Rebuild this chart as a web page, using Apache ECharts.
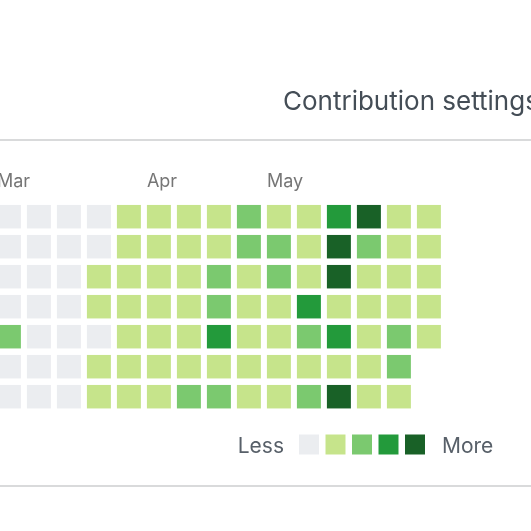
<!DOCTYPE html>
<html>
<head>
<meta charset="utf-8">
<script src="https://cdn.jsdelivr.net/npm/echarts@6/dist/echarts.min.js"></script>
<style>
html,body{margin:0;padding:0;background:#fff;}
#chart{width:531px;height:531px;}
</style>
</head>
<body>
<div id="chart"></div>
<script>
// Week columns (left to right, index) and weekday rows (top to bottom)
var weeks = ['w0','w1','w2','w3','w4','w5','w6','w7','w8','w9','w10','w11','w12','w13','w14'];
var days = ['Sun','Mon','Tue','Wed','Thu','Fri','Sat'];
// Contribution level (0-4) per week column, one entry per weekday row
var levelsByWeek = [
  [0,0,0,0,2,0,0],
  [0,0,0,0,0,0,0],
  [0,0,0,0,0,0,0],
  [0,0,1,1,0,1,1],
  [1,1,1,1,1,1,1],
  [1,1,1,1,1,1,1],
  [1,1,1,1,1,1,2],
  [1,1,2,2,3,1,2],
  [2,2,1,1,1,1,1],
  [1,2,2,1,1,1,1],
  [1,1,1,3,2,1,2],
  [3,4,4,1,3,1,4],
  [4,2,1,1,1,1,1],
  [1,1,1,1,2,2,1],
  [1,1,1,1,1]
];
// Month labels and the week column where each begins
var monthNames = ['Mar','Apr','May'];
var monthWeeks = [0,5,9];
// Legend levels and colours
var levelValues = [0,1,2,3,4];
var levelColors = ['#ebedf0','#c6e48b','#7bc96f','#239a3b','#196127'];
var legendText = ['Less','More'];

var cells = [];
levelsByWeek.forEach(function(col, w){
  col.forEach(function(v, d){ cells.push([w, d, v]); });
});
var months = monthNames.map(function(m, i){ return [monthWeeks[i], 0, m]; });

var FONT = 'Inter, "Liberation Sans", sans-serif';
var chart = echarts.init(document.getElementById('chart'));
chart.setOption({
  animation: false,
  backgroundColor: '#ffffff',
  title: {
    text: 'Contribution settings',
    left: 283, top: 88.5, padding: 0,
    textStyle: {fontFamily: FONT, fontSize: 26, fontWeight: 'normal', color: '#444d56', lineHeight: 28}
  },
  grid: {left: 0, top: 0, right: 0, bottom: 0},
  xAxis: {type: 'value', min: -0.2967, max: 17.4033, show: false},
  yAxis: {type: 'value', min: -7.2233, max: 10.4767, inverse: true, show: false},
  visualMap: {
    type: 'piecewise',
    seriesIndex: 0,
    dimension: 2,
    orient: 'horizontal',
    left: 299, top: 434.5, padding: 0,
    itemWidth: 20, itemHeight: 20, itemGap: 6.5,
    itemSymbol: 'rect',
    showLabel: false,
    selectedMode: false,
    hoverLink: false,
    pieces: levelValues.map(function(v, i){ return {value: v, color: levelColors[i]}; })
  },
  graphic: [
    {type: 'line', shape: {x1: 0, y1: 140, x2: 531, y2: 140}, style: {stroke: '#d9dadb', lineWidth: 2}},
    {type: 'line', shape: {x1: 0, y1: 486, x2: 531, y2: 486}, style: {stroke: '#d9dadb', lineWidth: 2}},
    {type: 'text', x: 284, y: 446.5, style: {text: legendText[0], fill: '#586069', font: '21px ' + FONT, textAlign: 'right', textVerticalAlign: 'middle'}},
    {type: 'text', x: 442, y: 446.5, style: {text: legendText[1], fill: '#586069', font: '21px ' + FONT, textAlign: 'left', textVerticalAlign: 'middle'}}
  ],
  series: [
    {
      type: 'custom',
      data: cells,
      encode: {x: 0, y: 1},
      renderItem: function(params, api){
        var c = api.coord([api.value(0), api.value(1)]);
        var w = 24, h = 23.5;
        return {
          type: 'rect',
          shape: {x: c[0] - w/2, y: c[1] - h/2, width: w, height: h},
          style: {fill: api.visual('color')}
        };
      }
    },
    {
      type: 'custom',
      data: months,
      encode: {x: 0, y: 1},
      renderItem: function(params, api){
        var c = api.coord([api.value(0), 0]);
        return {
          type: 'text',
          x: c[0] - 12, y: 181.5,
          style: {text: api.value(2), fill: '#767676', font: '18px ' + FONT, textVerticalAlign: 'middle', textAlign: 'left'}
        };
      }
    }
  ]
});
</script>
</body>
</html>
